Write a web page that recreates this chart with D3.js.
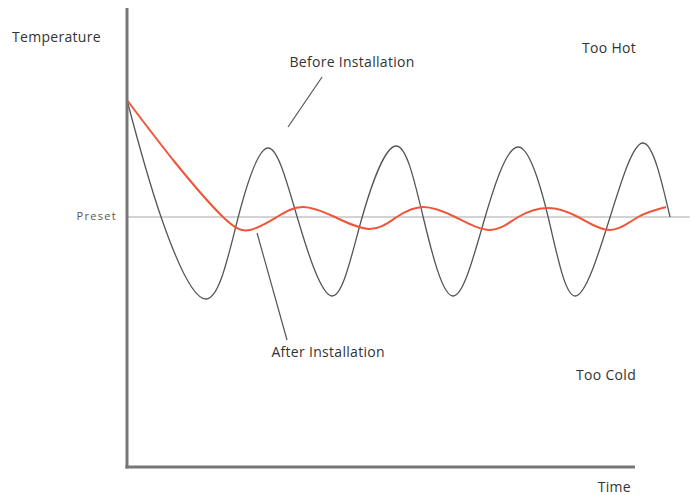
<!DOCTYPE html>
<html>
<head>
<meta charset="utf-8">
<script src="https://cdn.jsdelivr.net/npm/d3@7"></script>
<style>
  body { margin: 0; background: #fff; }
  text { font-family: "Open Sans", sans-serif; fill: #333; letter-spacing: 0.3px; }
</style>
</head>
<body>
<div id="container"></div>
<script>
/* CONSTANTS AND GLOBALS */
const width = 690,
  height = 495;

// time runs 0..100 along the drawn axis, temperature is measured from the preset (0)
const timeMax = 100,
  tempTop = 209,
  tempBottom = -250,
  presetEnd = 110.8;

// before installation: big swings around the preset
const beforeTime = [0, 6.7, 15.6, 21.9, 27.8, 33.5, 40.4, 46.3, 53.0, 58.3, 64.2, 70.5, 77.0, 82.9, 88.2, 95.1, 101.6, 106.9];
const beforeTemp = [117, 0, -82, 0, 69, 0, -79, 0, 71, 0, -79, 0, 70, 0, -79, 0, 74, 0];

// after installation: settles quickly, small ripple
const afterTime = [0, 9.4, 18.9, 24.2, 29.5, 34.6, 40.9, 47.8, 53.1, 58.3, 64.6, 71.5, 77.0, 82.9, 88.8, 95.1, 100.6, 106.1];
const afterTemp = [117, 55, 0, -13, 0, 10, 0, -12, 0, 10, 0, -13, 0, 9, 0, -13, 0, 10];

// labels and leader lines (data coordinates)
const labels = [
  {text: "Before Installation", t: 44.3, v: 150},
  {text: "After Installation", t: 39.6, v: -140},
  {text: "Too Hot", t: 100.2, v: 164},
  {text: "Too Cold", t: 100.2, v: -163},
]
const leaders = [
  {t1: 38.4, v1: 140, t2: 31.7, v2: 90},
  {t1: 25.6, v1: -16, t2: 31.5, v2: -123},
]

/* SCALES */
const xScale = d3.scaleLinear()
  .domain([0, timeMax])
  .range([127, 635])

const yScale = d3.scaleLinear()
  .domain([tempBottom, tempTop])
  .range([467, 8])

const svg = d3.select("#container")
  .append("svg")
  .attr("width", width)
  .attr("height", height)

// preset line
svg.append("line")
  .attr("x1", xScale(0))
  .attr("x2", xScale(presetEnd))
  .attr("y1", yScale(0))
  .attr("y2", yScale(0))
  .style("stroke", "#c4c4c4")
  .style("stroke-width", 1.5)

svg.append("text")
  .attr("x", xScale(0) - 10)
  .attr("y", yScale(0))
  .attr("text-anchor", "end")
  .attr("dominant-baseline", "middle")
  .style("font-size", "11px")
  .style("letter-spacing", "1.3px")
  .style("fill", "#555")
  .text("Preset")

/* LINES */
const line = d3.line()
  .x(d => xScale(d[0]))
  .y(d => yScale(d[1]))
  .curve(d3.curveNatural)

svg.append("path")
  .datum(beforeTime.map((t, i) => [t, beforeTemp[i]]))
  .attr("d", line)
  .style("fill", "none")
  .style("stroke", "#555")
  .style("stroke-width", 1.3)

svg.append("path")
  .datum(afterTime.map((t, i) => [t, afterTemp[i]]))
  .attr("d", line)
  .style("fill", "none")
  .style("stroke", "#f0553a")
  .style("stroke-width", 2)

// leader lines
leaders.forEach(d => {
  svg.append("line")
    .attr("x1", xScale(d.t1))
    .attr("y1", yScale(d.v1))
    .attr("x2", xScale(d.t2))
    .attr("y2", yScale(d.v2))
    .style("stroke", "#555")
    .style("stroke-width", 1.2)
})

labels.forEach(d => {
  svg.append("text")
    .attr("x", xScale(d.t))
    .attr("y", yScale(d.v))
    .attr("text-anchor", d.text.startsWith("Too") ? "end" : "middle")
    .style("font-size", "14px")
    .text(d.text)
})

/* AXES */
svg.append("line")
  .attr("x1", xScale(0))
  .attr("x2", xScale(0))
  .attr("y1", yScale(tempTop))
  .attr("y2", yScale(tempBottom) + 1.5)
  .style("stroke", "#777")
  .style("stroke-width", 3)

svg.append("line")
  .attr("x1", xScale(0) - 1.5)
  .attr("x2", xScale(timeMax))
  .attr("y1", yScale(tempBottom))
  .attr("y2", yScale(tempBottom))
  .style("stroke", "#777")
  .style("stroke-width", 3)

// axis titles
svg.append("text")
  .attr("x", 12)
  .attr("y", 42)
  .style("font-size", "14px")
  .text("Temperature")

svg.append("text")
  .attr("x", xScale(timeMax) - 4)
  .attr("y", 492)
  .attr("text-anchor", "end")
  .style("font-size", "14px")
  .text("Time")
</script>
</body>
</html>
